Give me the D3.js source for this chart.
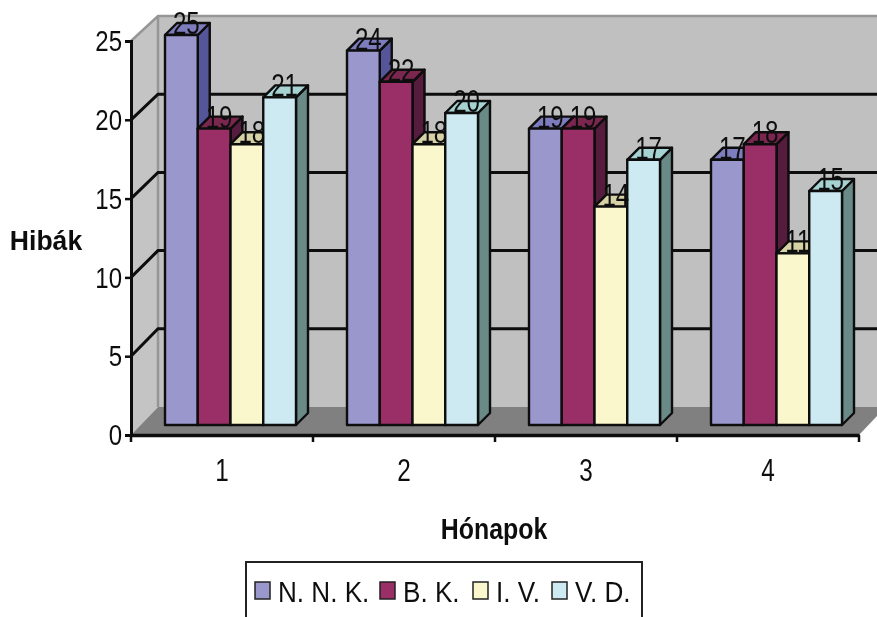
<!DOCTYPE html>
<html>
  <head>
    <meta charset="utf-8">
    <script src="https://d3js.org/d3.v7.min.js"></script>
    <style>
      body { margin: 0; background: #fff; }
      text { font-family: "Liberation Sans", Arial, sans-serif; fill: #111; }
      .edge { stroke: #0c0c0c; stroke-width: 2.4; stroke-linejoin: round; }
    </style>
  </head>
  <body>
    <svg width="877" height="617"></svg>
    <script>
      // data
      var months = ["1", "2", "3", "4"];
      var seriesNames = ["N. N. K.", "B. K.", "I. V.", "V. D."];
      var nnk = [25, 24, 19, 17];
      var bk = [19, 22, 19, 18];
      var iv = [18, 18, 14, 11];
      var vd = [21, 20, 17, 15];
      var yTicks = [0, 5, 10, 15, 20, 25];
      var frontColors = ["#9a97cc", "#9a2f66", "#fbf7cc", "#cdeaf2"];
      var topColors = ["#7d7bbd", "#7a2650", "#d6d2a6", "#a6d2d2"];
      var sideColors = ["#54549a", "#561c3c", "#85856a", "#6a8a88"];
      var values = [nnk, bk, iv, vd];

      var svg = d3.select("svg");
      var g = svg.append("g").attr("filter", "url(#soft)");
      svg.append("defs").append("filter").attr("id", "soft")
        .attr("x", 0).attr("y", 0).attr("width", 1).attr("height", 1)
        .attr("filterUnits", "objectBoundingBox")
        .append("feGaussianBlur").attr("stdDeviation", 0.5);
      g.append("rect").attr("width", 877).attr("height", 617).attr("fill", "#fff");

      // scales: the front axis, the back wall and the bars sit on different depths
      var yFront = d3.scaleLinear().domain([0, 25]).range([435, 41]);
      var yBack = d3.scaleLinear().domain([0, 25]).range([407, 16]);
      var yBar = d3.scaleLinear().domain([0, 25]).range([425, 35]);
      var x0 = d3.scaleBand().domain(months).range([131, 859]);
      var x1 = d3.scaleBand().domain(seriesNames).range([34, 165]);
      var wallX = 158, rightX = 877, depth = 12;

      function poly(points, fill, stroke, width) {
        return g.append("polygon")
          .attr("points", points.map(function(p) { return p.join(","); }).join(" "))
          .attr("fill", fill)
          .attr("stroke", stroke || "none")
          .attr("stroke-width", width || 0)
          .attr("stroke-linejoin", "round");
      }

      // walls and floor
      poly([[wallX, yBack(25)], [rightX, yBack(25)], [rightX, yBack(0)], [wallX, yBack(0)]], "#c0c0c0");
      poly([[131, yFront(25)], [wallX, yBack(25)], [wallX, yBack(0)], [131, yFront(0)]], "#c4c4c4");
      poly([[131, yFront(0)], [wallX, yBack(0)], [rightX, yBack(0)], [rightX, 416], [859, yFront(0)]], "#808080");

      // wall edges
      g.append("path")
        .attr("d", "M131," + yFront(25) + "L" + wallX + "," + yBack(25) + "H" + rightX +
          "M" + wallX + "," + yBack(25) + "V" + yBack(0))
        .attr("fill", "none").attr("stroke", "#969696").attr("stroke-width", 2.5);

      // gridlines
      var gridTicks = yTicks.filter(function(d) { return d > 0 && d < 25; });
      g.selectAll(".grid").data(gridTicks).join("path")
        .attr("class", "grid")
        .attr("d", function(d) { return "M131," + yFront(d) + "L" + wallX + "," + yBack(d) + "H" + rightX; })
        .attr("fill", "none").attr("stroke", "#0c0c0c").attr("stroke-width", 3);

      // bars, left to right so that later ones cover the side of earlier ones
      months.forEach(function(m, i) {
        seriesNames.forEach(function(s, j) {
          var v = values[j][i];
          var a = x0(m) + x1(s), b = a + x1.bandwidth();
          var top = yBar(v), base = yBar(0);
          poly([[b, top], [b + depth, top - depth], [b + depth, base - depth], [b, base]], sideColors[j]).attr("class", "edge");
          poly([[a, top], [a + depth, top - depth], [b + depth, top - depth], [b, top]], topColors[j]).attr("class", "edge");
          poly([[a, top], [b, top], [b, base], [a, base]], frontColors[j]).attr("class", "edge");
        });
      });

      // data labels on top of everything
      months.forEach(function(m, i) {
        seriesNames.forEach(function(s, j) {
          var v = values[j][i];
          var cx = x0(m) + x1(s) + x1.bandwidth() / 2 + 5;
          g.append("text")
            .attr("transform", "translate(" + cx + "," + (yBar(v) - 1) + ") scale(0.78,1)")
            .attr("text-anchor", "middle")
            .attr("font-size", 31)
            .text(v);
        });
      });

      // axes
      var yAxis = g.append("g").attr("transform", "translate(131,0)")
        .call(d3.axisLeft(yFront).tickValues(yTicks).tickSize(6).tickPadding(8));
      yAxis.select(".domain").attr("stroke", "#0c0c0c").attr("stroke-width", 3);
      yAxis.selectAll("line").attr("stroke", "#0c0c0c").attr("stroke-width", 2.5);
      yAxis.selectAll("text")
        .attr("font-size", 30)
        .attr("font-family", "Liberation Sans")
        .attr("fill", "#111")
        .attr("x", -9 / 0.8)
        .attr("transform", "scale(0.8,1)");

      var xAxis = g.append("g").attr("transform", "translate(0,435)")
        .call(d3.axisBottom(x0).tickSize(0).tickPadding(23));
      xAxis.select(".domain").attr("stroke", "#0c0c0c").attr("stroke-width", 3.5);
      xAxis.selectAll("text")
        .attr("font-size", 32)
        .attr("font-family", "Liberation Sans")
        .attr("fill", "#111")
        .attr("transform", "scale(0.76,1)");
      g.selectAll(".xtick").data(d3.range(months.length + 1)).join("line")
        .attr("class", "xtick")
        .attr("x1", function(d) { return x0.range()[0] + d * x0.step(); })
        .attr("x2", function(d) { return x0.range()[0] + d * x0.step(); })
        .attr("y1", 435).attr("y2", 442)
        .attr("stroke", "#0c0c0c").attr("stroke-width", 2.5);

      // axis titles
      g.append("text")
        .attr("transform", "translate(46,250) scale(0.95,1)")
        .attr("text-anchor", "middle").attr("font-size", 28).attr("font-weight", "bold")
        .text("Hibák");
      g.append("text")
        .attr("transform", "translate(494,539) scale(0.83,1)")
        .attr("text-anchor", "middle").attr("font-size", 30).attr("font-weight", "bold")
        .text("Hónapok");

      // legend, box runs off the bottom of the picture
      g.append("rect")
        .attr("x", 246).attr("y", 562).attr("width", 396).attr("height", 70)
        .attr("fill", "#fff").attr("stroke", "#222").attr("stroke-width", 2);
      var legendX = [255, 380, 473, 552];
      seriesNames.forEach(function(s, j) {
        g.append("rect")
          .attr("x", legendX[j]).attr("y", 582).attr("width", 15).attr("height", 17)
          .attr("fill", frontColors[j]).attr("stroke", "#222").attr("stroke-width", 1.5);
        g.append("text")
          .attr("transform", "translate(" + (legendX[j] + 23) + ",602) scale(0.87,1)")
          .attr("font-size", 30)
          .attr("fill", "#333")
          .text(s);
      });
    </script>
  </body>
</html>
